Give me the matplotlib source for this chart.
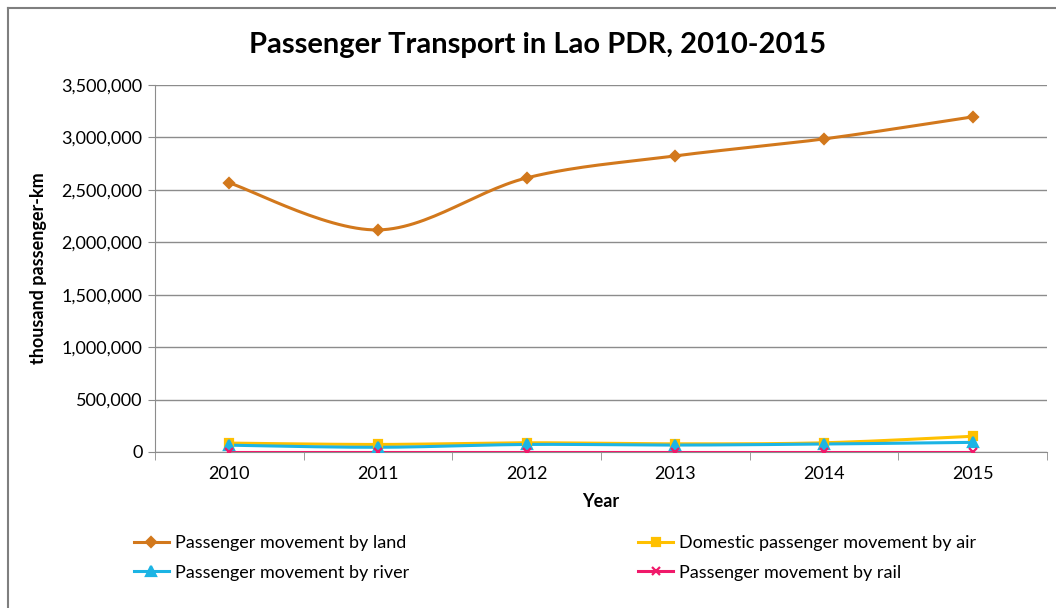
import numpy as np
import matplotlib.pyplot as plt
from matplotlib.ticker import FuncFormatter
from matplotlib.lines import Line2D

plt.rcParams['font.family'] = ['Lato', 'DejaVu Sans']

years = ['2010', '2011', '2012', '2013', '2014', '2015']
land = [2566000, 2118000, 2614000, 2824000, 2986000, 3196000]
air = [85000, 72000, 88000, 78000, 88000, 150000]
river = [65000, 45000, 72000, 66000, 76000, 92000]
rail = [2000, 2000, 2000, 2000, 2000, 2000]

series = [
    ('Passenger movement by land', land, '#D2781C', 'D', 5),
    ('Domestic passenger movement by air', air, '#FFC000', 's', 6),
    ('Passenger movement by river', river, '#1CB4E4', '^', 6.5),
    ('Passenger movement by rail', rail, '#F0196A', 'x', 6),
]


def smooth(x, y, n=30):
    # Catmull-Rom style bezier through each point, like spreadsheet "smoothed line"
    x = np.asarray(x, float)
    y = np.asarray(y, float)
    px, py = [], []
    for i in range(len(x) - 1):
        x0, y0 = (x[i - 1], y[i - 1]) if i > 0 else (x[i], y[i])
        x3, y3 = (x[i + 2], y[i + 2]) if i + 2 < len(x) else (x[i + 1], y[i + 1])
        x1, y1, x2, y2 = x[i], y[i], x[i + 1], y[i + 1]
        c1x, c1y = x1 + (x2 - x0) / 6, y1 + (y2 - y0) / 6
        c2x, c2y = x2 - (x3 - x1) / 6, y2 - (y3 - y1) / 6
        t = np.linspace(0, 1, n)
        bx = (1 - t) ** 3 * x1 + 3 * (1 - t) ** 2 * t * c1x + 3 * (1 - t) * t ** 2 * c2x + t ** 3 * x2
        by = (1 - t) ** 3 * y1 + 3 * (1 - t) ** 2 * t * c1y + 3 * (1 - t) * t ** 2 * c2y + t ** 3 * y2
        px.extend(bx)
        py.extend(by)
    return px, py


fig = plt.figure(figsize=(10.56, 6.08), dpi=100)
ax = fig.add_axes([155 / 1056, 1 - 452 / 608, (1047 - 155) / 1056, (452 - 85) / 608])

xs = np.arange(len(years))
for name, vals, color, marker, ms in series:
    sx, sy = smooth(xs, vals)
    ax.plot(sx, sy, color=color, lw=2.2, zorder=3)
    ax.plot(xs, vals, linestyle='none', marker=marker, color=color,
            markersize=ms, markeredgewidth=1.6, zorder=4)

ax.set_xlim(-0.5, len(years) - 0.5)
ax.set_ylim(0, 3500000)
ax.set_yticks(np.arange(0, 3500001, 500000))
ax.yaxis.set_major_formatter(FuncFormatter(lambda v, p: f'{int(v):,}'))
ax.set_xticks(xs)
ax.set_xticklabels(years)
ax.set_xticks(np.arange(-0.5, len(years), 1), minor=True)
ax.grid(axis='y', color='#8c8c8c', lw=1)
ax.set_axisbelow(True)
for s in ['top', 'right']:
    ax.spines[s].set_visible(False)
ax.spines['left'].set_color('#8c8c8c')
ax.spines['bottom'].set_color('#8c8c8c')
ax.tick_params(axis='x', which='major', length=0, labelsize=13, pad=10)
ax.tick_params(axis='x', which='minor', length=6, color='#8c8c8c')
ax.tick_params(axis='y', length=5, color='#8c8c8c', labelsize=13, pad=4)

ax.set_ylabel('thousand passenger-km', fontsize=13, fontweight='bold', labelpad=10)
ax.set_xlabel('Year', fontsize=13, fontweight='bold', labelpad=8)

fig.text(538 / 1056, 1 - 45 / 608, 'Passenger Transport in Lao PDR, 2010-2015',
         fontsize=21, fontweight='bold', ha='center', va='center')

# legend reads row by row: land, air / river, rail
order = [0, 2, 1, 3]
handles = [Line2D([], [], color=series[i][2], lw=2.2, marker=series[i][3],
                  markersize=series[i][4], markeredgewidth=1.6) for i in order]
labels = [series[i][0] for i in order]
fig.legend(handles, labels, ncol=2, loc='center left',
           bbox_to_anchor=(118 / 1056, 1 - 558 / 608), frameon=False,
           fontsize=13, handlelength=1.9, handletextpad=0.35,
           columnspacing=12.7, labelspacing=0.75)

# outer chart frame
fig.add_artist(Line2D([8 / 1056, 8 / 1056], [0, 1 - 8 / 608], color='#7f7f7f', lw=1.5))
fig.add_artist(Line2D([8 / 1056, 1], [1 - 8 / 608, 1 - 8 / 608], color='#7f7f7f', lw=1.5))

fig.savefig('out.png', dpi=100)
